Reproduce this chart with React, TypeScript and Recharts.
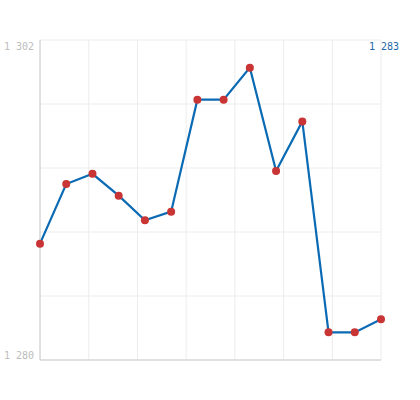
import React from 'react'
import { LineChart, Line, XAxis, YAxis, CartesianGrid } from 'recharts'

const steps = [0, 1, 2, 3, 4, 5, 6, 7, 8, 9, 10, 11, 12, 13]
const values = [1288.0, 1292.1, 1292.8, 1291.3, 1289.6, 1290.2, 1297.9, 1297.9, 1300.1, 1293.0, 1296.4, 1281.9, 1281.9, 1282.8]
const yTicks = [1280, 1302]
const lastLabel = '1 283'
const gridCols = 7
const gridRows = 5

const data = steps.map((s, i) => ({ step: s, value: values[i] }))

const fmt = (v: number) => {
  const s = Math.round(v).toString()
  return s.slice(0, 1) + ' ' + s.slice(1)
}

function YTick(props: any) {
  const { y, payload } = props
  const top = payload.value === yTicks[yTicks.length - 1]
  return (
    <text
      x={34}
      y={top ? y + 10 : y - 1}
      textAnchor="end"
      fill="#bdbdbd"
      fontSize={10}
      fontFamily="DejaVu Sans Mono"
    >
      {fmt(payload.value)}
    </text>
  )
}

export default function App() {
  return (
    <div style={{ position: 'absolute', left: 0, top: 0, width: 420, height: 400, background: '#fff' }}>
      <LineChart width={420} height={400} data={data} margin={{ top: 40, right: 39, bottom: 39, left: 0 }}>
        <CartesianGrid
          stroke="#ececec"
          verticalCoordinatesGenerator={({ offset }: any) =>
            Array.from({ length: gridCols + 1 }, (_, i) => offset.left + (i * offset.width) / gridCols)
          }
          horizontalCoordinatesGenerator={({ offset }: any) =>
            Array.from({ length: gridRows + 1 }, (_, i) => offset.top + (i * offset.height) / gridRows)
          }
        />
        <XAxis
          dataKey="step"
          type="number"
          domain={[0, 13]}
          tick={false}
          tickLine={false}
          height={1}
          axisLine={{ stroke: '#cccccc' }}
        />
        <YAxis
          type="number"
          domain={[1280, 1302]}
          ticks={yTicks}
          width={40}
          tickLine={false}
          axisLine={{ stroke: '#cccccc' }}
          tick={<YTick />}
          interval={0}
        />
        <Line
          dataKey="value"
          stroke="#0a6ab4"
          strokeWidth={2.2}
          dot={{ r: 4, fill: '#c93434', stroke: 'none' }}
          isAnimationActive={false}
        />
      </LineChart>
      <div
        style={{
          position: 'absolute',
          right: 21,
          top: 41,
          color: '#1f6aa8',
          fontSize: 10,
          fontFamily: 'DejaVu Sans Mono',
        }}
      >
        {lastLabel}
      </div>
    </div>
  )
}
